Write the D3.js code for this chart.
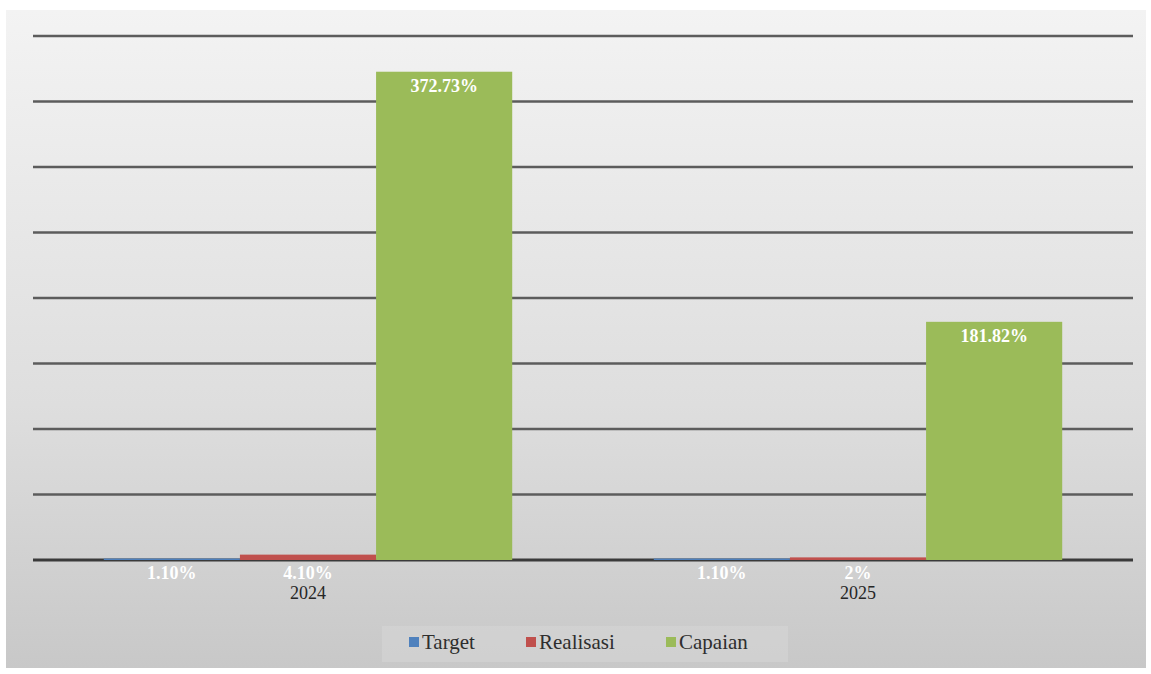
<!DOCTYPE html>
<html><head><meta charset="utf-8">
<script src="https://cdn.jsdelivr.net/npm/d3@7"></script>
<style>body{margin:0;background:#fff;}svg{display:block;}</style>
</head><body>
<script>
const categories = ["2024", "2025"];
const seriesNames = ["Target", "Realisasi", "Capaian"];
const targetValues = [1.10, 1.10];
const realisasiValues = [4.10, 2.00];
const capaianValues = [372.73, 181.82];
const valueLabels = [["1.10%", "4.10%", "372.73%"], ["1.10%", "2%", "181.82%"]];
const yTicks = [0, 50, 100, 150, 200, 250, 300, 350, 400];
const colors = ["#4f81bd", "#c0504d", "#9bbb59"];

const W = 1151, H = 674;
const svg = d3.select("body").append("svg").attr("width", W).attr("height", H);
const defs = svg.append("defs");
const grad = defs.append("linearGradient").attr("id", "bg").attr("x1", 0).attr("y1", 0).attr("x2", 0).attr("y2", 1);
grad.append("stop").attr("offset", "0%").attr("stop-color", "#f3f3f3");
grad.append("stop").attr("offset", "60%").attr("stop-color", "#dedede");
grad.append("stop").attr("offset", "100%").attr("stop-color", "#c8c8c8");

svg.append("rect").attr("x", 6).attr("y", 10).attr("width", 1140).attr("height", 658).attr("fill", "url(#bg)");

const m = {left: 33, right: 1133, top: 36, bottom: 560};
const x0 = d3.scaleBand().domain(categories).range([m.left, m.right]).paddingInner(0).paddingOuter(0);
const x1 = d3.scaleBand().domain(seriesNames).range([0, x0.bandwidth()]).paddingOuter(0.52).paddingInner(0);
const y = d3.scaleLinear().domain([0, 400]).range([m.bottom, m.top]);

// gridlines
svg.append("g").selectAll("line").data(yTicks).join("line")
  .attr("x1", m.left).attr("x2", m.right)
  .attr("y1", d => y(d)).attr("y2", d => y(d))
  .attr("stroke", d => d === 0 ? "#3a3a3a" : "#5c5c5c")
  .attr("stroke-width", d => d === 0 ? 3 : 2.5);

const rows = categories.map((c, i) => ({cat: c, vals: [targetValues[i], realisasiValues[i], capaianValues[i]], labels: valueLabels[i]}));

const g = svg.append("g").selectAll("g").data(rows).join("g")
  .attr("transform", d => `translate(${x0(d.cat)},0)`);

g.selectAll("rect").data(d => d.vals.map((v, j) => ({s: seriesNames[j], v, j}))).join("rect")
  .attr("x", d => x1(d.s)).attr("width", x1.bandwidth())
  .attr("y", d => y(d.v)).attr("height", d => y(0) - y(d.v))
  .attr("fill", d => colors[d.j]);

g.selectAll("text.val").data(d => d.vals.map((v, j) => ({s: seriesNames[j], v, j, l: d.labels[j]}))).join("text")
  .attr("class", "val")
  .attr("x", d => x1(d.s) + x1.bandwidth() / 2)
  .attr("y", d => d.v > 20 ? y(d.v) + 20 : y(0) + 19)
  .attr("text-anchor", "middle")
  .attr("font-family", "Liberation Serif, serif").attr("font-weight", "bold").attr("font-size", 18)
  .attr("fill", "#ffffff")
  .text(d => d.l);

// category labels
svg.append("g").selectAll("text").data(categories).join("text")
  .attr("x", d => x0(d) + x0.bandwidth() / 2).attr("y", 599)
  .attr("text-anchor", "middle")
  .attr("font-family", "Liberation Serif, serif").attr("font-size", 18).attr("fill", "#262626")
  .text(d => d);

// legend
svg.append("rect").attr("x", 382).attr("y", 626).attr("width", 406).attr("height", 36).attr("fill", "#d6d6d6").attr("opacity", 0.6);
const legX = [409, 526, 666];
const lg = svg.append("g").selectAll("g").data(seriesNames).join("g")
  .attr("transform", (d, i) => `translate(${legX[i]},643)`);
lg.append("rect").attr("x", 0).attr("y", -6).attr("width", 10).attr("height", 10).attr("fill", (d, i) => colors[i]);
lg.append("text").attr("x", 13).attr("y", 6)
  .attr("font-family", "Liberation Serif, serif").attr("font-size", 21).attr("fill", "#2e2e2e")
  .text(d => d);
</script>
</body></html>
